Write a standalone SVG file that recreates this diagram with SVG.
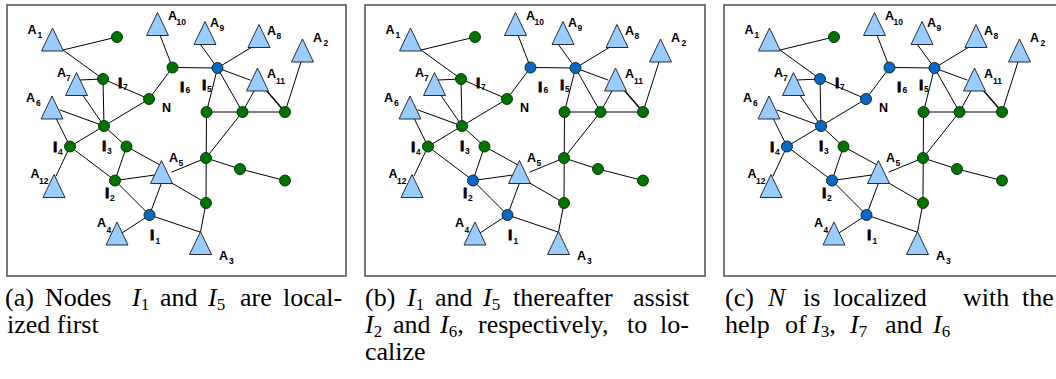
<svg xmlns="http://www.w3.org/2000/svg" xmlns:xlink="http://www.w3.org/1999/xlink" width="1056" height="379" viewBox="0 0 1056 379">
  <style>
    .frame { fill: #ffffff; stroke: #4d4d4d; stroke-width: 1.5; }
    .edge { stroke: #000000; stroke-width: 1; fill: none; stroke-linecap: round; }
    .tri { fill: #99ccff; stroke: #1a1a1a; stroke-width: 0.9; stroke-linejoin: miter; }
    .dot { stroke: #002a00; stroke-width: 0.9; }
    .loc { fill: #0b66cc; }
    .unk { fill: #007300; }
    .lbl { font-family: "Liberation Sans", Arial, sans-serif; font-weight: bold; font-size: 12.5px; fill: #000000; }
    .il { font-size: 15.5px; stroke: #000000; stroke-width: 0.8; }
    .sub { font-size: 8.5px; }
    .cap { font-family: "Liberation Serif", "Times New Roman", serif; font-size: 26px; fill: #000000; }
    .it { font-style: italic; }
    .ix { font-size: 17px; }
  </style>
  <defs>
    <!-- anchor glyph: apex at origin -->
    <path id="tri" class="tri" d="M0,0 L11,23 L-11,23 Z"/>

    <!-- radio links shared by all three stages -->
    <g id="links" class="edge">
      <line x1="63" y1="50" x2="117" y2="37"/>
      <line x1="63" y1="50" x2="103" y2="79"/>
      <line x1="80" y1="80" x2="103" y2="79"/>
      <line x1="103" y1="79" x2="149" y2="99"/>
      <line x1="103" y1="79" x2="104" y2="126"/>
      <line x1="82" y1="94" x2="104" y2="126"/>
      <line x1="60" y1="110" x2="104" y2="126"/>
      <line x1="149" y1="99" x2="104" y2="126"/>
      <line x1="149" y1="99" x2="172.5" y2="67.5"/>
      <line x1="160" y1="35" x2="172.5" y2="67.5"/>
      <line x1="172.5" y1="67.5" x2="217.5" y2="68"/>
      <line x1="200" y1="44" x2="217.5" y2="68"/>
      <line x1="217.5" y1="68" x2="252" y2="47"/>
      <line x1="217.5" y1="68" x2="250" y2="80"/>
      <line x1="217.5" y1="68" x2="206.5" y2="112"/>
      <line x1="217.5" y1="68" x2="242.5" y2="112"/>
      <line x1="206.5" y1="112" x2="285" y2="112"/>
      <line x1="254" y1="91" x2="242.5" y2="112"/>
      <line x1="266" y1="90" x2="285" y2="112" stroke-width="1.4"/>
      <line x1="301" y1="62" x2="285" y2="112"/>
      <line x1="206.5" y1="112" x2="206" y2="203"/>
      <line x1="242.5" y1="112" x2="206" y2="158"/>
      <line x1="206" y1="158" x2="240" y2="169"/>
      <line x1="240" y1="169" x2="285" y2="180.5"/>
      <line x1="206" y1="158" x2="172" y2="172"/>
      <line x1="170" y1="182" x2="206" y2="203"/>
      <line x1="206" y1="203" x2="200.5" y2="232"/>
      <line x1="149.5" y1="215" x2="200" y2="232"/>
      <line x1="52" y1="110" x2="70" y2="146.5"/>
      <line x1="104" y1="126" x2="70" y2="146.5"/>
      <line x1="104" y1="126" x2="126.5" y2="146.5"/>
      <line x1="70" y1="146.5" x2="56" y2="176"/>
      <line x1="70" y1="146.5" x2="115" y2="180.5"/>
      <line x1="126.5" y1="146.5" x2="115" y2="180.5"/>
      <line x1="126.5" y1="146.5" x2="160" y2="165"/>
      <line x1="115" y1="180.5" x2="155" y2="175"/>
      <line x1="115" y1="180.5" x2="149.5" y2="215"/>
      <line x1="149.5" y1="215" x2="161.5" y2="183"/>
      <line x1="149.5" y1="215" x2="122" y2="233"/>
    </g>

    <!-- anchors (known positions) -->
    <g id="anchors">
      <g id="A1"><use xlink:href="#tri" x="52.5" y="28"/><text class="lbl" x="27.5" y="33.5">A</text><text class="lbl sub" x="37.5" y="37.5">1</text></g>
      <g id="A2"><use xlink:href="#tri" x="302.5" y="39"/><text class="lbl" x="313" y="42">A</text><text class="lbl sub" x="323.5" y="46">2</text></g>
      <g id="A3"><use xlink:href="#tri" x="200.5" y="231.5"/><text class="lbl" x="219" y="260">A</text><text class="lbl sub" x="229" y="264">3</text></g>
      <g id="A4"><use xlink:href="#tri" x="117" y="222"/><text class="lbl" x="97" y="227">A</text><text class="lbl sub" x="106.5" y="233">4</text></g>
      <g id="A5"><use xlink:href="#tri" x="161.5" y="160.5"/><text class="lbl" x="169" y="162">A</text><text class="lbl sub" x="178.5" y="166">5</text></g>
      <g id="A6"><use xlink:href="#tri" x="52" y="96"/><text class="lbl" x="26" y="102">A</text><text class="lbl sub" x="36" y="106">6</text></g>
      <g id="A7"><use xlink:href="#tri" x="76.5" y="72.5"/><text class="lbl" x="57" y="77">A</text><text class="lbl sub" x="66" y="81">7</text></g>
      <g id="A8"><use xlink:href="#tri" x="259" y="24.5"/><text class="lbl" x="267" y="35">A</text><text class="lbl sub" x="276.5" y="39">8</text></g>
      <g id="A9"><use xlink:href="#tri" x="205" y="21.5"/><text class="lbl" x="210" y="27">A</text><text class="lbl sub" x="219.5" y="31">9</text></g>
      <g id="A10"><use xlink:href="#tri" x="157.5" y="12.5"/><text class="lbl" x="168" y="20">A</text><text class="lbl sub" x="176.5" y="25">10</text></g>
      <g id="A11"><use xlink:href="#tri" x="257.5" y="68"/><text class="lbl" x="267" y="78">A</text><text class="lbl sub" x="276" y="84">11</text></g>
      <g id="A12"><use xlink:href="#tri" x="54" y="174.5"/><text class="lbl" x="30.5" y="178">A</text><text class="lbl sub" x="39" y="184">12</text></g>
    </g>

    <!-- unknown-position nodes; fill comes from the referencing <use> -->
    <g id="n-I1"><circle class="dot" cx="149.5" cy="215" r="5.5"/><text class="lbl il" x="150" y="240">I</text><text class="lbl sub" x="155.5" y="244">1</text></g>
    <g id="n-I2"><circle class="dot" cx="115" cy="180.5" r="5.5"/><text class="lbl il" x="105" y="198">I</text><text class="lbl sub" x="110" y="201">2</text></g>
    <g id="n-I3"><circle class="dot" cx="104" cy="126" r="5.5"/><text class="lbl il" x="102" y="151">I</text><text class="lbl sub" x="107" y="154">3</text></g>
    <g id="n-I4"><circle class="dot" cx="70" cy="146.5" r="5.5"/><text class="lbl il" x="53" y="152">I</text><text class="lbl sub" x="58" y="155">4</text></g>
    <g id="n-I5"><circle class="dot" cx="217.5" cy="68" r="5.5"/><text class="lbl il" x="202" y="90">I</text><text class="lbl sub" x="207" y="92">5</text></g>
    <g id="n-I6"><circle class="dot" cx="172.5" cy="67.5" r="5.5"/><text class="lbl il" x="180" y="92">I</text><text class="lbl sub" x="185.5" y="93">6</text></g>
    <g id="n-I7"><circle class="dot" cx="103" cy="79" r="5.5"/><text class="lbl il" x="118" y="88">I</text><text class="lbl sub" x="123" y="90">7</text></g>
    <g id="n-N"><circle class="dot" cx="149" cy="99" r="5.5"/><text class="lbl" x="162" y="112">N</text></g>
    <g id="n-g1"><circle class="dot" cx="117" cy="37" r="5.5"/></g>
    <g id="n-g2"><circle class="dot" cx="126.5" cy="146.5" r="5.5"/></g>
    <g id="n-g3"><circle class="dot" cx="206.5" cy="112" r="5.5"/></g>
    <g id="n-g4"><circle class="dot" cx="242.5" cy="112" r="5.5"/></g>
    <g id="n-g5"><circle class="dot" cx="285" cy="112" r="5.5"/></g>
    <g id="n-g6"><circle class="dot" cx="206" cy="158" r="5.5"/></g>
    <g id="n-g7"><circle class="dot" cx="240" cy="169" r="5.5"/></g>
    <g id="n-g8"><circle class="dot" cx="285" cy="180.5" r="5.5"/></g>
    <g id="n-g9"><circle class="dot" cx="206" cy="203" r="5.5"/></g>
  </defs>

  <!-- stage (a): I1 and I5 localized -->
  <g id="panel-a">
    <rect class="frame" x="7" y="5" width="339" height="271"/>
    <g id="a-connectors"><use xlink:href="#links"/></g>
    <use xlink:href="#anchors"/>
    <g id="a-nodes">
      <use xlink:href="#n-I1" class="loc"/>
      <use xlink:href="#n-I2" class="unk"/>
      <use xlink:href="#n-I3" class="unk"/>
      <use xlink:href="#n-I4" class="unk"/>
      <use xlink:href="#n-I5" class="loc"/>
      <use xlink:href="#n-I6" class="unk"/>
      <use xlink:href="#n-I7" class="unk"/>
      <use xlink:href="#n-N" class="unk"/>
      <use xlink:href="#n-g1" class="unk"/>
      <use xlink:href="#n-g2" class="unk"/>
      <use xlink:href="#n-g3" class="unk"/>
      <use xlink:href="#n-g4" class="unk"/>
      <use xlink:href="#n-g5" class="unk"/>
      <use xlink:href="#n-g6" class="unk"/>
      <use xlink:href="#n-g7" class="unk"/>
      <use xlink:href="#n-g8" class="unk"/>
      <use xlink:href="#n-g9" class="unk"/>
    </g>
  </g>

  <!-- stage (b): I2 and I6 localized -->
  <g id="panel-b" transform="translate(358,0)">
    <rect class="frame" x="7" y="5" width="340" height="271"/>
    <g id="b-connectors"><use xlink:href="#links"/></g>
    <use xlink:href="#anchors"/>
    <g id="b-nodes">
      <use xlink:href="#n-I1" class="loc"/>
      <use xlink:href="#n-I2" class="loc"/>
      <use xlink:href="#n-I3" class="unk"/>
      <use xlink:href="#n-I4" class="unk"/>
      <use xlink:href="#n-I5" class="loc"/>
      <use xlink:href="#n-I6" class="loc"/>
      <use xlink:href="#n-I7" class="unk"/>
      <use xlink:href="#n-N" class="unk"/>
      <use xlink:href="#n-g1" class="unk"/>
      <use xlink:href="#n-g2" class="unk"/>
      <use xlink:href="#n-g3" class="unk"/>
      <use xlink:href="#n-g4" class="unk"/>
      <use xlink:href="#n-g5" class="unk"/>
      <use xlink:href="#n-g6" class="unk"/>
      <use xlink:href="#n-g7" class="unk"/>
      <use xlink:href="#n-g8" class="unk"/>
      <use xlink:href="#n-g9" class="unk"/>
    </g>
  </g>

  <!-- stage (c): N localized -->
  <g id="panel-c" transform="translate(717,0)">
    <rect class="frame" x="7" y="5" width="345" height="271"/>
    <g id="c-connectors"><use xlink:href="#links"/></g>
    <use xlink:href="#anchors"/>
    <g id="c-nodes">
      <use xlink:href="#n-I1" class="loc"/>
      <use xlink:href="#n-I2" class="loc"/>
      <use xlink:href="#n-I3" class="loc"/>
      <use xlink:href="#n-I4" class="loc"/>
      <use xlink:href="#n-I5" class="loc"/>
      <use xlink:href="#n-I6" class="loc"/>
      <use xlink:href="#n-I7" class="loc"/>
      <use xlink:href="#n-N" class="loc"/>
      <use xlink:href="#n-g1" class="unk"/>
      <use xlink:href="#n-g2" class="unk"/>
      <use xlink:href="#n-g3" class="unk"/>
      <use xlink:href="#n-g4" class="unk"/>
      <use xlink:href="#n-g5" class="unk"/>
      <use xlink:href="#n-g6" class="unk"/>
      <use xlink:href="#n-g7" class="unk"/>
      <use xlink:href="#n-g8" class="unk"/>
      <use xlink:href="#n-g9" class="unk"/>
    </g>
  </g>

  <!-- captions -->
  <g id="captions" class="cap">
    <text y="306"><tspan x="5">(a)</tspan><tspan x="45">Nodes</tspan><tspan x="132" class="it">I</tspan><tspan class="ix" dy="3.5">1</tspan><tspan x="160" dy="-3.5">and</tspan><tspan x="208" class="it">I</tspan><tspan class="ix" dy="3.5">5</tspan><tspan x="240" dy="-3.5">are</tspan><tspan x="283">local-</tspan></text>
    <text x="7" y="333">ized first</text>

    <text y="306"><tspan x="365">(b)</tspan><tspan x="407" class="it">I</tspan><tspan class="ix" dy="3.5">1</tspan><tspan x="435" dy="-3.5">and</tspan><tspan x="483" class="it">I</tspan><tspan class="ix" dy="3.5">5</tspan><tspan x="513" dy="-3.5">thereafter</tspan><tspan x="633">assist</tspan></text>
    <text y="333"><tspan x="365" class="it">I</tspan><tspan class="ix" dy="3.5">2</tspan><tspan x="393" dy="-3.5">and</tspan><tspan x="440" class="it">I</tspan><tspan class="ix" dy="3.5">6</tspan><tspan dy="-3.5">,</tspan><tspan x="478">respectively,</tspan><tspan x="627">to</tspan><tspan x="660">lo-</tspan></text>
    <text x="365" y="360">calize</text>

    <text y="306"><tspan x="725">(c)</tspan><tspan x="768" class="it">N</tspan><tspan x="803">is</tspan><tspan x="833">localized</tspan><tspan x="963">with</tspan><tspan x="1022">the</tspan></text>
    <text y="333"><tspan x="725">help</tspan><tspan x="785">of</tspan><tspan x="812" class="it">I</tspan><tspan class="ix" dy="3.5">3</tspan><tspan dy="-3.5">,</tspan><tspan x="850" class="it">I</tspan><tspan class="ix" dy="3.5">7</tspan><tspan x="885" dy="-3.5">and</tspan><tspan x="933" class="it">I</tspan><tspan class="ix" dy="3.5">6</tspan></text>
  </g>
</svg>
